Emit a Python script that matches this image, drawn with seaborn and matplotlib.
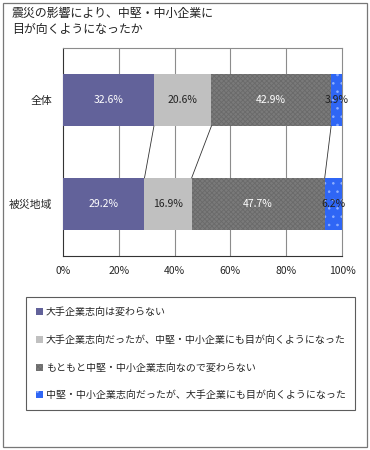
import matplotlib
matplotlib.use("Agg")
import matplotlib.pyplot as plt
import seaborn as sns
import numpy as np
import pandas as pd
from matplotlib.patches import Patch, Rectangle

categories = ["全体", "被災地域"]
series_names = [
    "大手企業志向は変わらない",
    "大手企業志向だったが、中堅・中小企業にも目が向くようになった",
    "もともと中堅・中小企業志向なので変わらない",
    "中堅・中小企業志向だったが、大手企業にも目が向くようになった",
]
values_all = [32.6, 20.6, 42.9, 3.9]
values_disaster = [29.2, 16.9, 47.7, 6.2]
x_ticks = [0, 20, 40, 60, 80, 100]
x_tick_labels = ["0%", "20%", "40%", "60%", "80%", "100%"]
title = "震災の影響により、中堅・中小企業に\n目が向くようになったか"

colors = ["#62629A", "#C0C0C0", "#7A7A7A", "#2F66F5"]
hatch_colors = ["#62629A", "#C0C0C0", "#6A6A6A", "#8FB0FF"]
hatches = [None, None, "xxxxxxx", ".."]
text_colors = ["white", "#222222", "white", "#222222"]

sns.set_theme(style="white")
plt.rcParams["font.family"] = ["Noto Sans CJK JP", "DejaVu Sans"]
plt.rcParams["hatch.linewidth"] = 0.6

fig = plt.figure(figsize=(3.7, 4.5), dpi=100)
fig.patch.set_facecolor("white")
ax = fig.add_axes([63 / 370, 1 - 256 / 450, 279 / 370, 208 / 450])

vals = np.array([values_all, values_disaster])
cum = np.cumsum(vals, axis=1)
df = pd.DataFrame({"cat": categories})

for i in reversed(range(4)):
    df["v"] = cum[:, i]
    sns.barplot(data=df, x="v", y="cat", orient="h", color=colors[i],
                saturation=1, width=0.5, ax=ax, hatch=hatches[i],
                edgecolor=hatch_colors[i], linewidth=0, zorder=3)

# labels
for r in range(2):
    left = 0
    for i in range(4):
        c = left + vals[r, i] / 2
        ax.text(c, r, f"{vals[r, i]:.1f}%", ha="center", va="center",
                fontsize=7.5, color=text_colors[i], zorder=5)
        left += vals[r, i]

# series lines
for k in range(3):
    ax.plot([cum[0, k], cum[1, k]], [0.25, 0.75], color="#333333", lw=0.6, zorder=4)

ax.set_xlim(0, 100)
ax.set_ylim(1.5, -0.5)
ax.set_xticks(x_ticks)
ax.set_xticklabels(x_tick_labels, fontsize=7.5)
ax.set_xlabel("")
ax.set_ylabel("")
ax.tick_params(axis="x", length=0, pad=7)
ax.tick_params(axis="y", length=0, pad=8, labelsize=7.8)
ax.set_yticks([0, 1])
ax.set_yticklabels(categories)
ax.set_yticks([0.5], minor=True)
ax.tick_params(axis="y", which="minor", direction="in", length=3, width=0.8, color="#333333")
for x in x_ticks[1:-1]:
    ax.axvline(x, color="#8C8C8C", lw=0.8, zorder=1)
for s in ["top", "right"]:
    ax.spines[s].set_color("#8C8C8C")
    ax.spines[s].set_linewidth(0.8)
for s in ["left", "bottom"]:
    ax.spines[s].set_color("#333333")
    ax.spines[s].set_linewidth(0.8)
if ax.get_legend():
    ax.get_legend().remove()

fig.text(12 / 370, 1 - 7 / 450, title, ha="left", va="top", fontsize=8.6,
         color="#222222", linespacing=1.35)

handles = [Patch(facecolor=colors[i], hatch=hatches[i], edgecolor=hatch_colors[i], linewidth=0)
           for i in range(4)]
leg = fig.legend(handles, series_names, loc="upper left",
                 bbox_to_anchor=(26 / 370, 1 - 407 / 450, 329 / 370, 110 / 450),
                 mode="expand", fontsize=7.2, frameon=True, fancybox=False,
                 handlelength=0.7, handleheight=0.7, handletextpad=0.3,
                 labelspacing=1.78, borderpad=1.0, borderaxespad=0)
leg.get_frame().set_edgecolor("#333333")
leg.get_frame().set_linewidth(0.8)

fig.patches.append(Rectangle((3 / 370, 3 / 450), 364 / 370, 444 / 450, transform=fig.transFigure,
                             fill=False, edgecolor="#777777", lw=0.9))

fig.savefig("out.png", dpi=100)
